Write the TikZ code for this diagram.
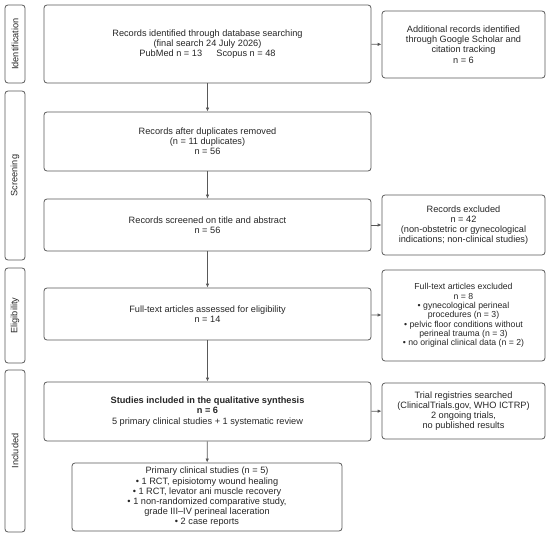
\documentclass[tikz,border=0pt]{standalone}
\usepackage{fontspec}
\setmainfont{Liberation Sans}
\usepackage{tikz}
\usetikzlibrary{arrows.meta}
\usetikzlibrary{calc}

\begin{document}
\begin{tikzpicture}[x=1pt, y=-1pt, font=\fontsize{9.2}{10.2}\selectfont,
        box_style/.style={draw=black!65, line width=0.8pt, rounded corners=3pt, align=center, inner sep=0pt, text=black!85},
        side_style/.style={draw=black!65, line width=0.8pt, rounded corners=3pt, rotate=90, inner sep=0pt, minimum height=20pt, text=black!85},
        edge_style/.style={draw=black!65, line width=0.8pt, -{Latex[length=4pt,width=3.5pt]}}]

        \useasboundingbox (0,0) rectangle (550,535);

        % phase labels
        \node [side_style, minimum width=78pt](s1) at (15,44) {Identification};

        \node [side_style, minimum width=169pt](s2) at (15,175.5) {Screening};

        \node [side_style, minimum width=95pt](s3) at (15,315.5) {Eligibility};

        \node [side_style, minimum width=162pt](s4) at (15,451) {Included};

        % main column
        \node [box_style, minimum width=327pt, minimum height=78pt](n1) at (207.5,44) {Records identified through database searching\\(final search 24 July 2026)\\PubMed n = 13 \quad\ Scopus n = 48};

        \node [box_style, minimum width=327pt, minimum height=59pt](n2) at (207.5,141.5) {Records after duplicates removed\\(n = 11 duplicates)\\n = 56};

        \node [box_style, minimum width=327pt, minimum height=52pt](n3) at (207.5,225) {Records screened on title and abstract\\n = 56};

        \node [box_style, minimum width=327pt, minimum height=52pt](n4) at (207.5,314) {Full-text articles assessed for eligibility\\n = 14};

        \node [box_style, minimum width=327pt, minimum height=59pt](n5) at (207.5,411.5) {\textbf{Studies included in the qualitative synthesis}\\\textbf{n = 6}\\5 primary clinical studies + 1 systematic review};

        \node [box_style, minimum width=270pt, minimum height=68pt](n6) at (207,497) {Primary clinical studies (n = 5)\\• 1 RCT, episiotomy wound healing\\• 1 RCT, levator ani muscle recovery\\• 1 non-randomized comparative study,\\grade III–IV perineal laceration\\• 2 case reports};

        % right column
        \node [box_style, minimum width=163pt, minimum height=67pt](r1) at (463.5,44.5) {Additional records identified\\through Google Scholar and\\citation tracking\\n = 6};

        \node [box_style, minimum width=163pt, minimum height=60pt](r2) at (463.5,225) {Records excluded\\n = 42\\(non-obstetric or gynecological\\indications; non-clinical studies)};

        \node [box_style, minimum width=163pt, minimum height=91pt, font=\fontsize{8.7}{9.3}\selectfont](r3) at (463.5,315.5) {Full-text articles excluded\\n = 8\\• gynecological perineal\\procedures (n = 3)\\• pelvic floor conditions without\\perineal trauma (n = 3)\\• no original clinical data (n = 2)};

        \node [box_style, minimum width=163pt, minimum height=56pt](r4) at (463.5,411) {Trial registries searched\\(ClinicalTrials.gov, WHO ICTRP)\\2 ongoing trials,\\no published results};

        \draw [edge_style] (n1) edge (n2);

        \draw [edge_style] (n2) edge (n3);

        \draw [edge_style] (n3) edge (n4);

        \draw [edge_style] (n4) edge (n5);

        \draw [edge_style] (n5) edge (n6);

        \draw [edge_style] (n1) edge (r1);

        \draw [edge_style] (n3) edge (r2);

        \draw [edge_style] (n4) edge (r3);

        \draw [edge_style] (n5) edge (r4);

        \end{tikzpicture}
\end{document}
